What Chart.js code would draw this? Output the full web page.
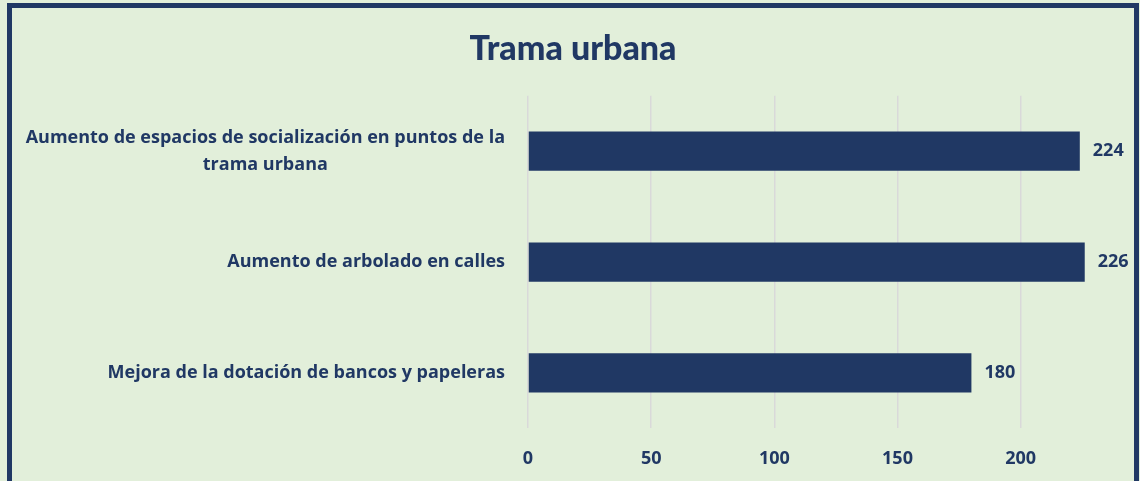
<!DOCTYPE html>
<html>
<head>
<meta charset="utf-8">
<script src="https://cdn.jsdelivr.net/npm/chart.js@4"></script>
<style>
  html, body { margin: 0; padding: 0; background: #E2EFDA; overflow: hidden; }
  #frame {
    position: absolute; left: 7px; top: 3px;
    width: 1122px; height: 520px;
    border: 5px solid #203864;
    background: #E2EFDA;
  }
  #chart { display: block; }
</style>
</head>
<body>
<div id="frame">
  <canvas id="chart" width="1122" height="493"></canvas>
</div>
<script>
const categories = [
  ['Aumento de espacios de socialización en puntos de la', 'trama urbana'],
  ['Aumento de arbolado en calles'],
  ['Mejora de la dotación de bancos y papeleras']
];
const values = [224, 226, 180];
const tickValues = [0, 50, 100, 150, 200];

const navy = '#203864';
const labelFont = '"Open Sans", sans-serif';
const titleFont = 'Lato, sans-serif';

// category labels: block right-aligned against the axis, lines centred in the block
const categoryLabels = {
  id: 'categoryLabels',
  afterDraw(chart) {
    const { ctx, scales: { y } } = chart;
    ctx.save();
    ctx.fillStyle = navy;
    ctx.font = 'bold 18px ' + labelFont;
    ctx.textBaseline = 'middle';
    ctx.textAlign = 'center';
    const right = chart.chartArea.left - 23;
    const lh = 27;
    categories.forEach((lines, i) => {
      const w = Math.max(...lines.map(l => ctx.measureText(l).width));
      const cx = right - w / 2;
      const cy = y.getPixelForValue(i);
      lines.forEach((l, k) => {
        ctx.fillText(l, cx, cy + (k - (lines.length - 1) / 2) * lh);
      });
    });
    ctx.restore();
  }
};

// value at the end of each bar
const valueLabels = {
  id: 'valueLabels',
  afterDatasetsDraw(chart) {
    const { ctx } = chart;
    const meta = chart.getDatasetMeta(0);
    ctx.save();
    ctx.fillStyle = navy;
    ctx.font = 'bold 18px ' + labelFont;
    ctx.textBaseline = 'middle';
    ctx.textAlign = 'left';
    meta.data.forEach((bar, i) => {
      ctx.fillText(values[i], bar.x + 13, bar.y);
    });
    ctx.restore();
  }
};

new Chart(document.getElementById('chart'), {
  type: 'bar',
  data: {
    labels: categories,
    datasets: [{
      data: values,
      backgroundColor: navy,
      borderWidth: 0,
      categoryPercentage: 1,
      barPercentage: 0.354
    }]
  },
  options: {
    indexAxis: 'y',
    responsive: false,
    animation: false,
    layout: { padding: { left: 0, right: 0, top: 0, bottom: 11 } },
    plugins: {
      legend: { display: false },
      tooltip: { enabled: false },
      title: {
        display: true,
        text: 'Trama urbana',
        color: navy,
        font: { family: titleFont, size: 34, weight: 900 },
        padding: { top: 21, bottom: 26 }
      }
    },
    scales: {
      x: {
        min: 0,
        max: 246,
        afterBuildTicks: axis => { axis.ticks = tickValues.map(v => ({ value: v })); },
        grid: { color: '#D9D9D9', lineWidth: 1.5, drawTicks: false },
        border: { display: false },
        ticks: { color: navy, font: { family: labelFont, size: 18, weight: 'bold' }, padding: 20 }
      },
      y: {
        // space for the hand-drawn category labels
        afterFit: scale => { scale.width = 516; },
        grid: { display: false },
        border: { display: false },
        ticks: { display: false }
      }
    }
  },
  plugins: [categoryLabels, valueLabels]
});
</script>
</body>
</html>
